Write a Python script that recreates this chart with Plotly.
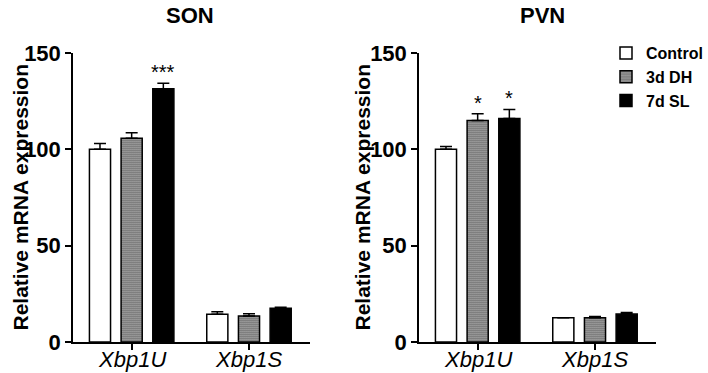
import plotly.graph_objects as go

categories = ["Xbp1U", "Xbp1S"]
series_names = ["Control", "3d DH", "7d SL"]

son_values = {"Control": [100, 14.4], "3d DH": [105.8, 13.5], "7d SL": [131.5, 17.5]}
son_errors = {"Control": [3.0, 1.3], "3d DH": [2.8, 1.2], "7d SL": [2.8, 0.5]}
son_sig = {"Control": ["", ""], "3d DH": ["", ""], "7d SL": ["***", ""]}

pvn_values = {"Control": [100, 12.6], "3d DH": [115, 12.6], "7d SL": [116, 14.5]}
pvn_errors = {"Control": [1.5, 0.0], "3d DH": [3.5, 0.6], "7d SL": [4.7, 0.8]}
pvn_sig = {"Control": ["", ""], "3d DH": ["*", ""], "7d SL": ["*", ""]}

y_ticks = [0, 50, 100, 150]
panel_titles = ["SON", "PVN"]

styles = {
    "Control": dict(color="white", pattern=None),
    "3d DH": dict(color="white", pattern=dict(shape=".", size=2, solidity=0.55, fgcolor="#111111", bgcolor="#ffffff", fillmode="replace")),
    "7d SL": dict(color="black", pattern=None),
}

pitch = 0.27
bar_w = 0.18
FONT = "Liberation Sans, Arial, sans-serif"

fig = go.Figure()
panels = [(son_values, son_errors, son_sig, "x", "y"), (pvn_values, pvn_errors, pvn_sig, "x2", "y2")]
annotations = []
for p, (vals, errs, sigs, xa, ya) in enumerate(panels):
    for i, name in enumerate(series_names):
        xs = [c + (i - 1) * pitch for c in range(len(categories))]
        st = styles[name]
        marker = dict(color=st["color"], line=dict(color="black", width=1.5))
        if st["pattern"]:
            marker["pattern"] = st["pattern"]
        fig.add_trace(go.Bar(
            x=xs, y=vals[name], width=bar_w, name=name, marker=marker,
            error_y=dict(type="data", array=errs[name], arrayminus=[0] * len(categories),
                         symmetric=False, color="black", thickness=1.5, width=6),
            xaxis=xa, yaxis=ya, showlegend=(p == 1),
        ))
        for c, s in enumerate(sigs[name]):
            if s:
                annotations.append(dict(
                    x=xs[c], y=vals[name][c] + errs[name][c], xref=xa, yref=ya,
                    text=s, showarrow=False, yanchor="bottom", yshift=-2,
                    font=dict(family=FONT, size=20, color="black")))
    # category labels under the x axis
    for c, cat in enumerate(categories):
        annotations.append(dict(
            x=c, y=(373 - 359) / 373, xref=xa, yref="paper", text=cat, showarrow=False,
            xanchor="center", yanchor="middle",
            font=dict(family=FONT, size=22, color="black", style="italic")))

ydom = [(373 - 342) / 373, (373 - 53) / 373]
xdoms = [[73 / 708, 310 / 708], [419 / 708, 656 / 708]]
axis_common = dict(showline=True, linecolor="black", linewidth=1.5, ticks="outside",
                   tickcolor="black", tickwidth=1.5, ticklen=6, showgrid=False, zeroline=False,
                   automargin=False)

fig.update_layout(
    xaxis=dict(domain=xdoms[0], range=[-0.5, 1.52], tickvals=[0, 1], showticklabels=False,
               anchor="y", **axis_common),
    xaxis2=dict(domain=xdoms[1], range=[-0.5, 1.52], tickvals=[0, 1], showticklabels=False,
                anchor="y2", **axis_common),
    yaxis=dict(domain=ydom, range=[0, 150], tickvals=y_ticks, anchor="x",
               tickfont=dict(family=FONT, size=22, color="black", weight="bold"), **axis_common),
    yaxis2=dict(domain=ydom, range=[0, 150], tickvals=y_ticks, anchor="x2",
                tickfont=dict(family=FONT, size=22, color="black", weight="bold"), **axis_common),
    barmode="overlay",
    width=708, height=373,
    margin=dict(l=0, r=0, t=0, b=0, autoexpand=False),
    paper_bgcolor="white", plot_bgcolor="white",
    showlegend=True,
    legend=dict(x=606 / 708, y=1 - 36 / 373, xanchor="left", yanchor="top",
                font=dict(family=FONT, size=16, color="black", weight="bold"),
                bgcolor="rgba(0,0,0,0)", itemwidth=30, tracegroupgap=0),
)

title_x = [190 / 708, 542 / 708]
ytitle_x = [20 / 708, 362 / 708]
for p in range(2):
    annotations.append(dict(x=title_x[p], y=1 - 15 / 373, xref="paper", yref="paper",
                            text=panel_titles[p], showarrow=False, xanchor="center", yanchor="middle",
                            font=dict(family=FONT, size=22, color="black", weight="bold")))
    annotations.append(dict(x=ytitle_x[p], y=(ydom[0] + ydom[1]) / 2, xref="paper", yref="paper",
                            text="Relative mRNA expression", showarrow=False, textangle=-90,
                            xanchor="center", yanchor="middle",
                            font=dict(family=FONT, size=21, color="black", weight="bold")))
fig.update_layout(annotations=annotations)

fig.write_html("out.html", config={"displayModeBar": False},
               post_script="document.body.style.margin='0px';document.body.style.overflow='hidden';")
